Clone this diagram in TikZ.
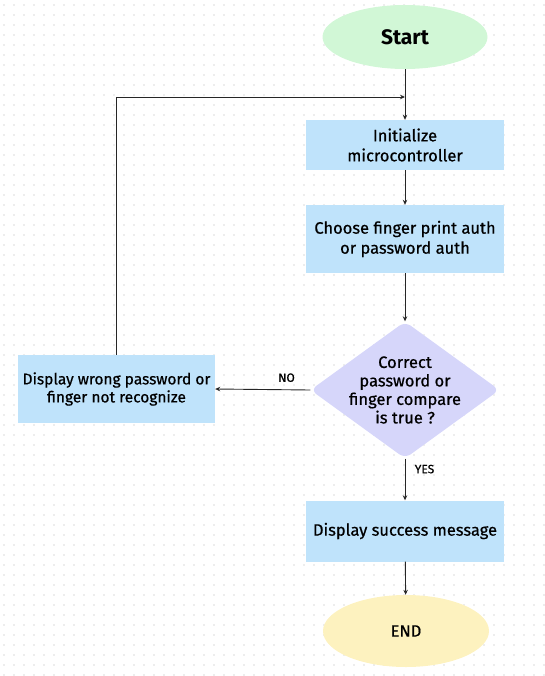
\documentclass[tikz,border=0pt]{standalone}
\usepackage{fontspec}
\setmainfont{Fira Sans}
\newfontfamily\medfont{Fira Sans}[FakeBold=0.6]
\usetikzlibrary{shapes.geometric,arrows.meta}
\definecolor{startgreen}{RGB}{209,247,214}
\definecolor{boxblue}{RGB}{191,227,251}
\definecolor{decpurple}{RGB}{214,214,250}
\definecolor{endyellow}{RGB}{253,242,191}
\definecolor{dotgray}{RGB}{218,218,218}
\tikzset{
  terminal/.style={ellipse, minimum width=165pt, minimum height=64pt, inner sep=0pt},
  process/.style={rectangle, fill=boxblue, minimum width=198pt, align=center, font=\medfont\fontsize{16.5}{20}\selectfont},
  decision/.style={diamond, fill=decpurple, minimum width=189pt, minimum height=137pt, inner sep=0pt, rounded corners=7pt},
  flow/.style={-{Stealth[length=5pt,width=4.5pt]}, line width=0.9pt, draw=black!85},
  tag/.style={font=\medfont\fontsize{12}{14}\selectfont}
}
\begin{document}
\begin{tikzpicture}[x=1pt,y=-1pt]
	\useasboundingbox (0,0) rectangle (545,676);
	% dotted background
	\foreach \y in {5,15,...,675}
	  \draw[dotgray, line width=1.6pt, line cap=round, dash pattern=on 0pt off 10pt] (4,\y) -- (545,\y);

	\node[terminal, fill=startgreen, font=\fontsize{21}{24}\selectfont\bfseries] (start) at (405,37) {Start};
	\node[process, minimum height=50pt] (init) at (405,145) {Initialize\\microcontroller};
	\node[process, minimum height=68pt] (choose) at (405,239) {Choose finger print auth\\or password auth};
	\node[decision] (check) at (405,390) {};
	\node[align=center, font=\medfont\fontsize{16.5}{18.5}\selectfont] (checktext) at (check.center) {Correct\\password or\\finger compare\\is true ?};
	\node[process, minimum width=197pt, minimum height=68pt, font=\medfont\fontsize{15.5}{18}\selectfont] (wrong) at (116.5,389) {Display wrong password or\\finger not recognize};
	\node[process, minimum height=61pt] (success) at (405,531) {Display success message};
	\node[terminal, fill=endyellow, minimum width=166pt, minimum height=72pt, font=\medfont\fontsize{16.5}{18}\selectfont] (end) at (406,631) {END};
	\coordinate (join) at (405,97);

	\draw[flow] (start) -- (init);
	\draw[flow] (init) -- (choose);
	\draw[flow] (choose) -- (check.north);
	\draw[flow] (check.west) -- node[tag, above, pos=0.25, yshift=4pt] {NO} (wrong.east);
	\draw[flow] (check.south) -- node[tag, right, pos=0.25, xshift=6pt] {YES} (success.north);
	\draw[flow] (success) -- (end);
	\draw[flow] (wrong.north) |- (join);
\end{tikzpicture}
\end{document}
